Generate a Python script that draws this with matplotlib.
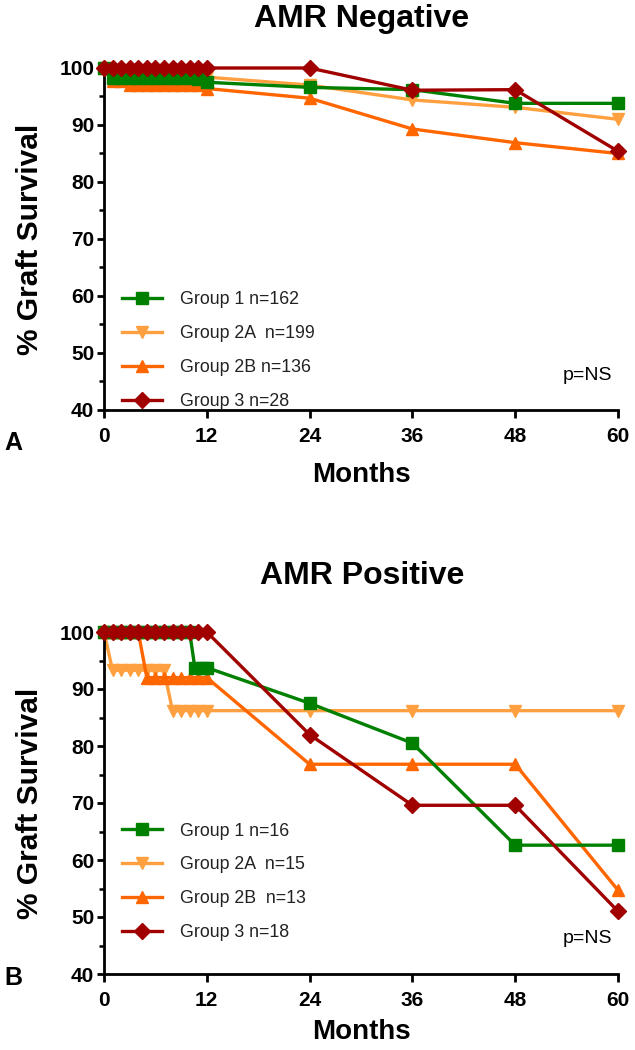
import matplotlib
matplotlib.use("Agg")
import matplotlib.pyplot as plt

plt.rcParams['font.family'] = ['Liberation Sans', 'DejaVu Sans']

# ---------------- data ----------------
groups = ["Group 1", "Group 2A", "Group 2B", "Group 3"]

# AMR Negative
neg_labels = ["Group 1 n=162", "Group 2A  n=199", "Group 2B n=136", "Group 3 n=28"]
neg_g1_x = [0, 1, 2, 3, 4, 5, 6, 7, 8, 9, 10, 11, 12, 24, 36, 48, 60]
neg_g1_y = [100, 98.2, 98.2, 98.2, 98.2, 98.2, 98.2, 98.2, 98.2, 98.2, 98.2, 98.0, 97.5, 96.6, 96.2, 93.8, 93.8]
neg_g2a_x = [0, 1, 2, 3, 4, 5, 6, 7, 8, 9, 10, 11, 12, 24, 36, 48, 60]
neg_g2a_y = [100, 98.5, 98.5, 98.5, 98.5, 98.5, 98.5, 98.5, 98.5, 98.5, 98.5, 98.5, 98.4, 97.0, 94.4, 93.1, 91.0]
neg_g2b_x = [0, 1, 2, 3, 4, 5, 6, 7, 8, 9, 10, 11, 12, 24, 36, 48, 60]
neg_g2b_y = [100, 97.8, 97.8, 97.0, 97.0, 97.0, 97.0, 97.0, 97.0, 97.0, 97.0, 97.0, 96.4, 94.7, 89.3, 86.9, 85.0]
neg_g3_x = [0, 1, 2, 3, 4, 5, 6, 7, 8, 9, 10, 11, 12, 24, 36, 48, 60]
neg_g3_y = [100, 100, 100, 100, 100, 100, 100, 100, 100, 100, 100, 100, 100, 100, 96.1, 96.2, 85.4]

# AMR Positive
pos_labels = ["Group 1 n=16", "Group 2A  n=15", "Group 2B  n=13", "Group 3 n=18"]
pos_g1_x = [0, 1, 2, 3, 4, 5, 6, 7, 8, 9, 10, 10.6, 11.5, 12, 24, 36, 48, 60]
pos_g1_y = [100, 100, 100, 100, 100, 100, 100, 100, 100, 100, 100, 93.75, 93.75, 93.75, 87.5, 80.5, 62.6, 62.6]
pos_g2a_x = [0, 1, 2, 3, 4, 5, 6, 7, 8, 9, 10, 11, 12, 24, 36, 48, 60]
pos_g2a_y = [100, 93.3, 93.3, 93.3, 93.3, 93.3, 93.3, 93.3, 86.2, 86.2, 86.2, 86.2, 86.2, 86.2, 86.2, 86.2, 86.2]
pos_g2b_x = [0, 1, 2, 3, 4, 5, 6, 7, 8, 9, 10, 11, 12, 24, 36, 48, 60]
pos_g2b_y = [100, 100, 100, 100, 100, 92.0, 92.0, 92.0, 92.0, 92.0, 92.0, 92.0, 92.0, 76.8, 76.8, 76.8, 54.7]
pos_g3_x = [0, 1, 2, 3, 4, 5, 6, 7, 8, 9, 10, 11, 12, 24, 36, 48, 60]
pos_g3_y = [100, 100, 100, 100, 100, 100, 100, 100, 100, 100, 100, 100, 100, 82.0, 69.6, 69.6, 51.0]

x_ticks = [0, 12, 24, 36, 48, 60]
y_ticks = [40, 50, 60, 70, 80, 90, 100]
y_minor = [45, 55, 65, 75, 85, 95]

# ---------------- styles ----------------
colors = ["#008000", "#FFA040", "#FF6600", "#A00000"]
markers = ["s", "v", "^", "D"]
msizes = [8.5, 9, 9, 8]
zorders = [4, 2, 3, 5]

fig = plt.figure(figsize=(6.35, 10.5), dpi=100)

W, H = 635.0, 1050.0
def ax_rect(x0, x1, ytop, ybot):
    return [x0 / W, 1 - ybot / H, (x1 - x0) / W, (ybot - ytop) / H]

ax1 = fig.add_axes(ax_rect(104, 618, 68, 410))
ax2 = fig.add_axes(ax_rect(104, 618, 632, 974))

def style(ax, xpad):
    ax.set_xlim(0, 60)
    ax.set_ylim(40, 100)
    for s in ["top", "right"]:
        ax.spines[s].set_visible(False)
    for s in ["left", "bottom"]:
        ax.spines[s].set_linewidth(2.0)
    ax.set_xticks(x_ticks)
    ax.set_yticks(y_ticks)
    ax.set_yticks(y_minor, minor=True)
    ax.tick_params(axis="x", which="major", direction="out", length=6, width=2.0,
                   labelsize=15, pad=6)
    ax.tick_params(axis="y", which="major", direction="out", length=5, width=2.0,
                   labelsize=15, pad=2)
    ax.tick_params(axis="y", which="minor", direction="out", length=3.5, width=1.8)
    for lab in ax.get_xticklabels() + ax.get_yticklabels():
        lab.set_fontweight("bold")
    ax.set_xlabel("Months", fontsize=20, fontweight="bold", labelpad=xpad)
    ax.set_ylabel("% Graft Survival", fontsize=21.5, fontweight="bold", labelpad=11)

def draw(ax, xs, ys, labels, leg_y):
    handles = []
    for i in range(4):
        ln, = ax.plot(xs[i], ys[i], color=colors[i], marker=markers[i], ms=msizes[i],
                      mec=colors[i], mfc=colors[i], lw=2.4, zorder=zorders[i],
                      clip_on=False, label=labels[i])
        handles.append(ln)
    leg = ax.legend(handles, labels, loc="lower left", bbox_to_anchor=(0.035, leg_y),
                    frameon=False, fontsize=12.8, handlelength=2.25, handletextpad=1.0,
                    labelspacing=0.95, borderpad=0, borderaxespad=0)
    for t in leg.get_texts():
        t.set_color("#222222")

style(ax1, 12)
draw(ax1, [neg_g1_x, neg_g2a_x, neg_g2b_x, neg_g3_x],
     [neg_g1_y, neg_g2a_y, neg_g2b_y, neg_g3_y], neg_labels, 0.0)
ax1.text(0.988, 0.1, "p=NS", transform=ax1.transAxes, ha="right", va="center", fontsize=14)

style(ax2, 7)
draw(ax2, [pos_g1_x, pos_g2a_x, pos_g2b_x, pos_g3_x],
     [pos_g1_y, pos_g2a_y, pos_g2b_y, pos_g3_y], pos_labels, 0.096)
ax2.text(0.988, 0.105, "p=NS", transform=ax2.transAxes, ha="right", va="center", fontsize=14)

fig.text(362 / W, 1 - 19 / H, "AMR Negative", ha="center", va="center", fontsize=23, fontweight="bold")
fig.text(362 / W, 1 - 576 / H, "AMR Positive", ha="center", va="center", fontsize=23, fontweight="bold")
fig.text(4 / W, 1 - 443 / H, "A", ha="left", va="center", fontsize=18, fontweight="bold")
fig.text(4 / W, 1 - 978 / H, "B", ha="left", va="center", fontsize=18, fontweight="bold")

fig.savefig("out.png", dpi=100)
